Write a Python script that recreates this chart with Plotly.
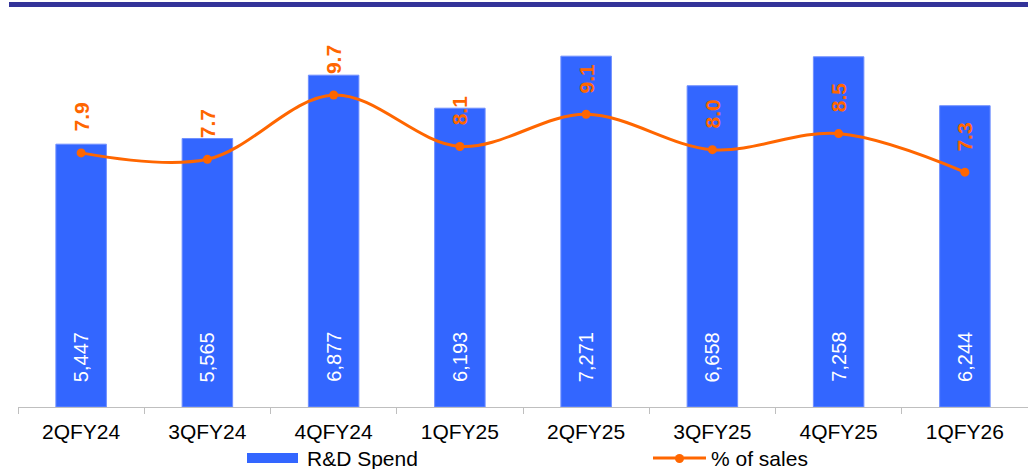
import plotly.graph_objects as go

# Quarterly R&D spend and share of sales
quarters = ["2QFY24", "3QFY24", "4QFY24", "1QFY25", "2QFY25", "3QFY25", "4QFY25", "1QFY26"]
rd_spend = [5447, 5565, 6877, 6193, 7271, 6658, 7258, 6244]
pct_sales = [7.9, 7.7, 9.7, 8.1, 9.1, 8.0, 8.5, 7.3]

BLUE = "#3366FF"
ORANGE = "#FF6600"
FONT = "Liberation Sans, Arial, sans-serif"

fig = go.Figure()

fig.add_trace(go.Bar(
    x=quarters, y=rd_spend, name="R&D Spend",
    marker=dict(color=BLUE, line=dict(color="#6f8fff", width=1)),
    showlegend=False, hoverinfo="x+y",
))

fig.add_trace(go.Scatter(
    x=quarters, y=pct_sales, name="% of sales", yaxis="y2",
    mode="lines+markers",
    line=dict(color=ORANGE, width=3, shape="spline", smoothing=1),
    marker=dict(color=ORANGE, size=9),
    showlegend=False,
))

# Value labels inside the bars, rotated, near the base
for q, v in zip(quarters, rd_spend):
    fig.add_annotation(
        x=q, y=0, xref="x", yref="y", text=f"{v:,}", textangle=-90,
        showarrow=False, yanchor="bottom", yshift=23,
        font=dict(family=FONT, size=20, color="white"),
    )

# Percentage labels above the line markers
for q, p in zip(quarters, pct_sales):
    fig.add_annotation(
        x=q, y=p, xref="x", yref="y2", text=f"<b>{p:.1f}</b>", textangle=-90,
        showarrow=False, yanchor="bottom", yshift=19,
        font=dict(family=FONT, size=21, color=ORANGE),
    )

# Legend drawn along the bottom edge
fig.add_shape(type="rect", xref="paper", yref="paper",
              x0=(247 - 18) / 1010, x1=(298 - 18) / 1010,
              y0=-(453 - 407) / 386, y1=-(463 - 407) / 386,
              fillcolor=BLUE, line=dict(width=0))
fig.add_annotation(xref="paper", yref="paper", x=(305 - 18) / 1010, y=-(458 - 407) / 386,
                   text="R&D Spend", showarrow=False, xanchor="left", yanchor="middle",
                   font=dict(family=FONT, size=21, color="black"))
fig.add_shape(type="line", xref="paper", yref="paper",
              x0=(653 - 18) / 1010, x1=(706 - 18) / 1010,
              y0=-(458 - 407) / 386, y1=-(458 - 407) / 386,
              line=dict(color=ORANGE, width=3))
fig.add_shape(type="circle", xref="paper", yref="paper",
              x0=(675 - 18) / 1010, x1=(684 - 18) / 1010,
              y0=-(454 - 407) / 386, y1=-(463 - 407) / 386,
              fillcolor=ORANGE, line=dict(width=0))
fig.add_annotation(xref="paper", yref="paper", x=(709 - 18) / 1010, y=-(458 - 407) / 386,
                   text="% of sales", showarrow=False, xanchor="left", yanchor="middle",
                   font=dict(family=FONT, size=21, color="black"))

# Header band
fig.add_shape(type="rect", xref="paper", yref="paper",
              x0=(9 - 18) / 1010, x1=1.0,
              y0=(407 - 2) / 386, y1=(407 - 7) / 386,
              fillcolor="#333399", line=dict(width=0))

fig.update_layout(
    width=1028, height=469,
    margin=dict(l=18, r=0, t=21, b=62),
    paper_bgcolor="white", plot_bgcolor="white",
    bargap=0.6,
    font=dict(family=FONT, size=21, color="black"),
    xaxis=dict(
        showline=True, linecolor="#bfbfbf", linewidth=1,
        ticks="outside", tickson="boundaries", ticklen=6, tickcolor="#bfbfbf",
        ticklabelstandoff=6,
        tickfont=dict(family=FONT, size=21, color="black"),
        showgrid=False, zeroline=False,
    ),
    yaxis=dict(range=[0, 8000], visible=False, showgrid=False, zeroline=False),
    yaxis2=dict(range=[0, 12], overlaying="y", side="right", visible=False,
                showgrid=False, zeroline=False),
    showlegend=False,
)

fig.write_html("out.html")
